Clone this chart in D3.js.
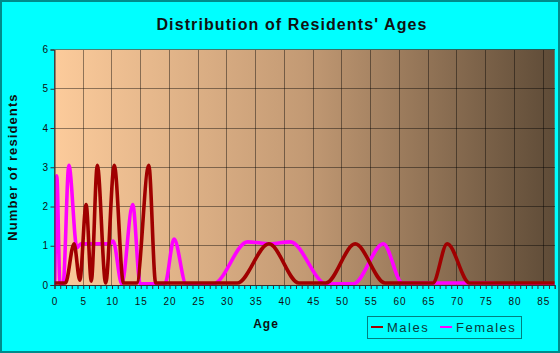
<!DOCTYPE html>
<html><head><meta charset="utf-8">
<script src="https://cdn.jsdelivr.net/npm/d3@7"></script>
<style>
html,body{margin:0;padding:0;background:#00ffff;}
svg{display:block;font-family:"Liberation Sans",Arial,sans-serif;}
</style></head>
<body><svg id="c" width="560" height="353"></svg>
<script>
// ---- data ----
const title = "Distribution of Residents' Ages";
const xLabel = "Age";
const yLabel = "Number of residents";
const seriesNames = ["Males", "Females"];
const xTicks = [0,5,10,15,20,25,30,35,40,45,50,55,60,65,70,75,80,85];
const yTicks = [0,1,2,3,4,5,6];

const maleAges   = [0, 1, 1.9, 3.4, 4.4, 5.5, 6.4, 7.45, 8.9, 10.4, 12, 14.3, 16.4, 17.6, 25, 31.8, 37.3, 42.5, 47.2, 52.3, 57.5, 65.8, 68.3, 72.2, 80, 87];
const maleCounts = [0.05, 0.05, 0.05, 1.05, 0.12, 2.05, 0.1, 3.05, 0.05, 3.05, 0.05, 0.05, 3.05, 0.05, 0.05, 0.05, 1.05, 0.05, 0.05, 1.05, 0.05, 0.05, 1.05, 0.05, 0.05, 0.05];

const femaleAges   = [0.05, 0.4, 0.95, 1.5, 2.5, 3.9, 4.6, 9.6, 10.2, 11.7, 13.6, 14.9, 19.2, 20.8, 22.9, 27.6, 33.6, 37.5, 41, 47.3, 52, 57.2, 60.5, 76, 78, 87];
const femaleCounts = [0, 2.78, 0.03, 0.03, 3.05, 0.95, 1.05, 1.05, 1.12, 0.03, 2.05, 0.03, 0.03, 1.17, 0.03, 0.03, 1.1, 1.05, 1.1, 0.03, 0.03, 1.05, 0.05, 0.05, 0, 0];

// ---- layout ----
const W = 560, H = 353;
const L = 54.5, R = 554.7, T = 49.5, B = 285;
const svg = d3.select("#c");

// outer border
svg.append("rect").attr("x",1).attr("y",1).attr("width",W-2).attr("height",H-2)
  .attr("fill","#00ffff").attr("stroke","#008b8b").attr("stroke-width",2);

const x = d3.scaleLinear().domain([0,87]).range([L,R]);
const y = d3.scaleLinear().domain([0,6]).range([B,T]);

// gradient
const defs = svg.append("defs");
const g = defs.append("linearGradient").attr("id","bg").attr("x1","0").attr("x2","1").attr("y1","0").attr("y2","0");
g.append("stop").attr("offset","0").attr("stop-color","#fccb9b");
g.append("stop").attr("offset","0.5").attr("stop-color","#c39a74");
g.append("stop").attr("offset","1").attr("stop-color","#5e4b37");
defs.append("clipPath").attr("id","clip").append("rect")
  .attr("x",L).attr("y",T-2).attr("width",R-L).attr("height",B-T+2);

svg.append("rect").attr("x",L).attr("y",T).attr("width",R-L).attr("height",B-T).attr("fill","url(#bg)");

// grid
const grid = svg.append("g").attr("stroke","#000").attr("stroke-opacity",0.42).attr("stroke-width",1).attr("shape-rendering","crispEdges");
xTicks.forEach(t => { if (t>0) grid.append("line").attr("x1",x(t)).attr("x2",x(t)).attr("y1",T).attr("y2",B); });
yTicks.forEach(t => { if (t>0) grid.append("line").attr("x1",L).attr("x2",R).attr("y1",y(t)).attr("y2",y(t)); });

// plot frame left
svg.append("line").attr("x1",L).attr("x2",L).attr("y1",T).attr("y2",B).attr("stroke","#555").attr("shape-rendering","crispEdges");

// lines
const line = (ages, vals) => d3.line().x(d=>x(d)).y((d,i)=>y(vals[i])).curve(d3.curveMonotoneX)(ages);
const lg = svg.append("g").attr("clip-path","url(#clip)").attr("fill","none").attr("stroke-width",3.6).attr("stroke-linejoin","round");
lg.append("path").attr("d", line(femaleAges, femaleCounts)).attr("stroke","#ff00ff");
lg.append("path").attr("d", line(maleAges, maleCounts)).attr("stroke","#a00000");

// x axis
const xa = svg.append("g").attr("transform",`translate(0,${B})`)
  .call(d3.axisBottom(x).tickValues(d3.range(0,88,1)).tickSize(4).tickFormat(""));
xa.select(".domain").attr("stroke","#333");
xa.selectAll(".tick line").attr("stroke","#333");
svg.append("g").selectAll("text").data(xTicks).join("text")
  .attr("x",d=>x(d)+0.5).attr("y",305).attr("text-anchor","middle")
  .attr("font-size",10).attr("letter-spacing",0.8).attr("fill","#111").text(d=>d);

// y axis
const ya = svg.append("g").attr("transform",`translate(${L},0)`)
  .call(d3.axisLeft(y).tickValues(yTicks).tickSize(4).tickFormat(""));
ya.select(".domain").attr("stroke","#333");
ya.selectAll(".tick line").attr("stroke","#333");
svg.append("g").selectAll("text").data(yTicks).join("text")
  .attr("x",48).attr("y",d=>y(d)+3.5).attr("text-anchor","end")
  .attr("font-size",10).attr("fill","#111").text(d=>d);

// titles
svg.append("text").attr("x",292).attr("y",30).attr("text-anchor","middle")
  .attr("font-size",16).attr("font-weight","bold").attr("letter-spacing",1.1).attr("fill","#111").text(title);
svg.append("text").attr("x",266).attr("y",328).attr("text-anchor","middle")
  .attr("font-size",12).attr("font-weight","bold").attr("letter-spacing",1).attr("fill","#111").text(xLabel);
svg.append("text").attr("transform","translate(17,167) rotate(-90)").attr("text-anchor","middle")
  .attr("font-size",13).attr("font-weight","bold").attr("letter-spacing",1.1).attr("fill","#111").text(yLabel);

// legend
svg.append("rect").attr("x",367.5).attr("y",316.5).attr("width",154).attr("height",22)
  .attr("fill","none").attr("stroke","#008080");
const legColors = ["#a00000","#ff00ff"];
const legX = [371, 440];
seriesNames.forEach((n,i)=>{
  svg.append("line").attr("x1",legX[i]).attr("x2",legX[i]+12).attr("y1",327).attr("y2",327)
    .attr("stroke",legColors[i]).attr("stroke-width",2);
  svg.append("text").attr("x",legX[i]+16).attr("y",332).attr("font-size",13)
    .attr("letter-spacing",1.5).attr("fill","#0a3a3a").text(n);
});
</script></body></html>
